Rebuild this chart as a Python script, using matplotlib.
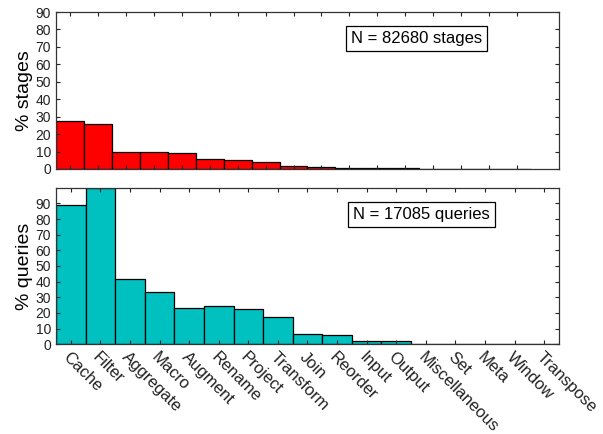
import matplotlib
matplotlib.use("Agg")
import matplotlib.pyplot as plt
import numpy as np

plt.rcParams["font.family"] = ["Liberation Sans", "DejaVu Sans"]

categories = ["Cache", "Filter", "Aggregate", "Macro", "Augment", "Rename", "Project",
              "Transform", "Join", "Reorder", "Input", "Output", "Miscellaneous", "Set",
              "Meta", "Window", "Transpose"]
pct_stages = [27.5, 26.0, 10.0, 9.8, 9.2, 5.8, 4.9, 3.8, 1.6, 1.4, 0.8, 0.6, 0.3, 0.2, 0.1, 0.05, 0.02]
pct_queries = [89.0, 99.5, 42.0, 33.2, 23.2, 24.3, 22.3, 17.5, 6.3, 6.2, 2.3, 2.0, 0.3, 0.2, 0.1, 0.05, 0.02]
n_stages = 82680
n_queries = 17085

fig = plt.figure(figsize=(6.03, 4.34), dpi=100)
ax1 = fig.add_axes([0.0929, 0.6106, 0.834, 0.3617])
ax2 = fig.add_axes([0.0929, 0.2067, 0.834, 0.3608])

x = np.arange(1, len(categories) + 1)

ax1.bar(x, pct_stages, width=1.0, color="#ff0000", edgecolor="black", linewidth=0.9)
ax2.bar(x, pct_queries, width=1.0, color="#00c0c0", edgecolor="black", linewidth=0.9)

ax1.set_xlim(0.5, len(categories) + 1.5)
ax1.set_ylim(0, 90)
ax2.set_xlim(0.5, len(categories) + 0.5)
ax2.set_ylim(0, 100)

for ax in (ax1, ax2):
    ax.set_xticks(x)
    ax.set_yticks(np.arange(0, 91, 10))
    ax.tick_params(direction="in", top=True, right=True, length=3, width=0.8,
                   labelsize=10, colors="#222222")
    for s in ax.spines.values():
        s.set_linewidth(0.9)
        s.set_color("#333333")

ax1.set_xticklabels([])
ax2.set_xticklabels(categories, rotation=-45, ha="left", va="top",
                    rotation_mode="anchor", fontsize=12)
ax2.tick_params(axis="x", pad=3.5)

ax1.set_ylabel("% stages", fontsize=14, labelpad=2)
ax2.set_ylabel("% queries", fontsize=14, labelpad=2)

box = dict(boxstyle="square,pad=0.3", facecolor="white", edgecolor="black", linewidth=0.9)
ax1.text(0.716, 0.832, f"N = {n_stages} stages", transform=ax1.transAxes,
         ha="center", va="center", fontsize=12, bbox=box)
ax2.text(0.727, 0.829, f"N = {n_queries} queries", transform=ax2.transAxes,
         ha="center", va="center", fontsize=12, bbox=box)

fig.savefig("out.png", dpi=100)
